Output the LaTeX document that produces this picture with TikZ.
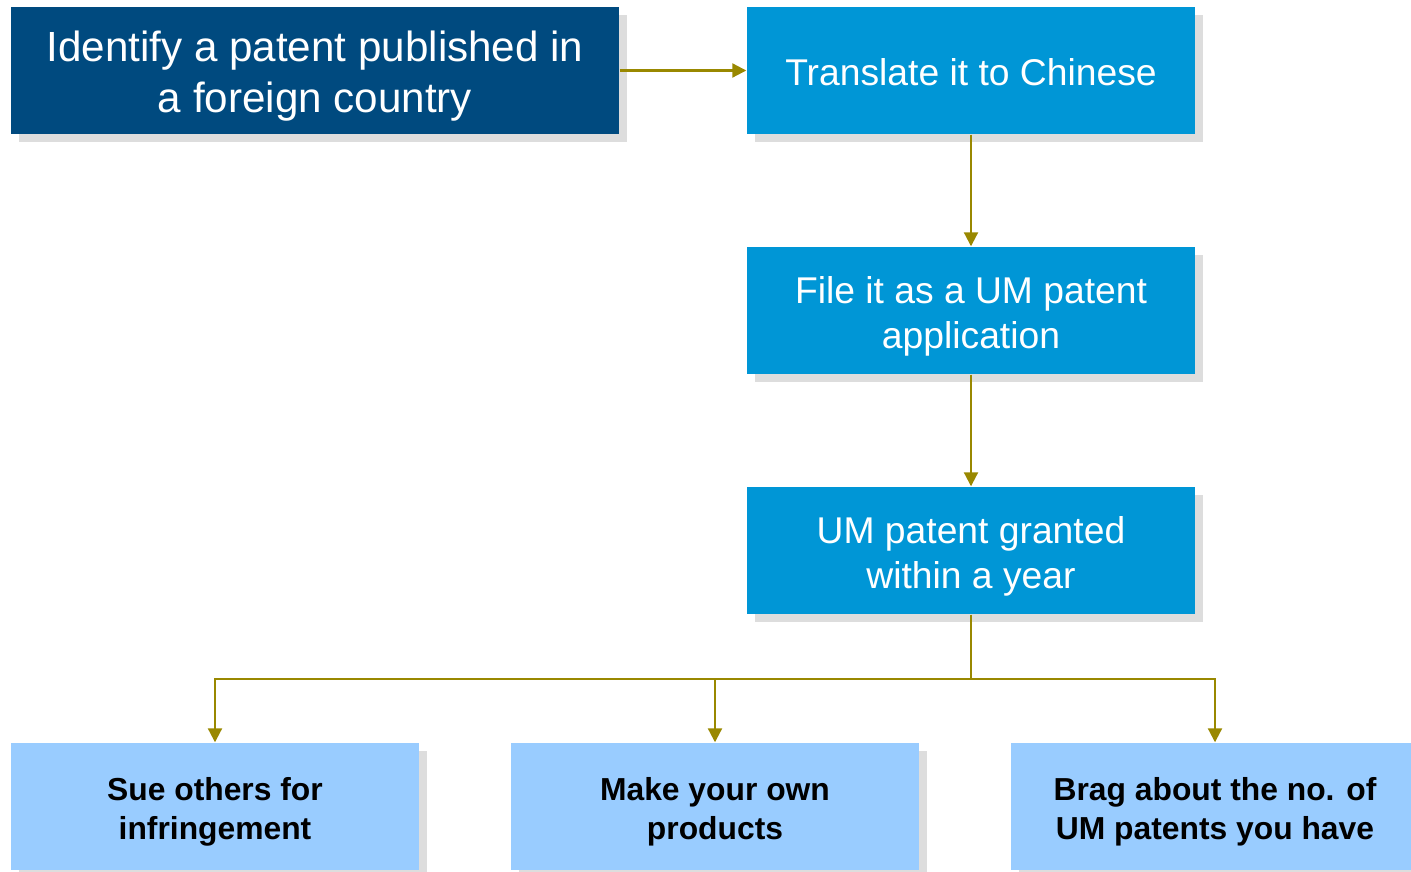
\documentclass[tikz,border=0pt]{standalone}
\usepackage{fontspec}
\setmainfont{Liberation Sans}
\usetikzlibrary{arrows.meta,shadows}

\definecolor{navy}{RGB}{0,74,127}
\definecolor{midblue}{RGB}{0,150,214}
\definecolor{paleblue}{RGB}{153,204,255}
\definecolor{olive}{RGB}{153,136,0}
\definecolor{shade}{RGB}{221,221,221}

\tikzset{
  box/.style={rectangle, inner sep=0pt, minimum height=1.27cm,
    drop shadow={shadow xshift=0.08cm, shadow yshift=-0.08cm, fill=shade, opacity=1}},
  boxtext/.style={align=center, inner sep=0pt, yshift=-0.055cm},
  navybox/.style={box, fill=navy, minimum width=6.08cm},
  navytext/.style={boxtext, text=white, font=\fontsize{12}{14.6}\selectfont},
  stepbox/.style={box, fill=midblue, minimum width=4.48cm},
  steptext/.style={boxtext, text=white, font=\fontsize{10.6}{12.8}\selectfont},
  endbox/.style={box, fill=paleblue, minimum width=4.08cm},
  endtext/.style={boxtext, text=black, font=\fontsize{9.05}{11.1}\selectfont\bfseries},
  arr/.style={draw=olive, line width=0.6pt, -{Triangle[length=0.14cm,width=0.14cm]}}
}

\begin{document}
\begin{tikzpicture}
  \clip (0,0) rectangle (14.11,-8.72);
  \def\cx{9.71}   % column of the steps
  \node[navybox, label={[navytext]center:Identify a patent published in\\a foreign country}] (find) at (3.15,-0.705) {};
  \node[stepbox, label={[steptext, yshift=0.035cm]center:Translate it to Chinese}] (translate) at (\cx,-0.705) {};
  \node[stepbox, label={[steptext]center:File it as a UM patent\\application}] (file) at (\cx,-3.105) {};
  \node[stepbox, label={[steptext]center:UM patent granted\\within a year}] (grant) at (\cx,-5.505) {};
  \coordinate (split) at (\cx,-6.79);
  \draw[arr] (find) -- (translate);
  \draw[arr] (translate) -- (file);
  \draw[arr] (file) -- (grant);
  \draw[olive, line width=0.6pt] (grant.south) -- (split);
  \foreach \n/\x/\t in {sue/2.15/{Sue others for\\infringement},
                        make/7.15/{Make your own\\products},
                        brag/12.15/{Brag about the no. of\\UM patents you have}} {
    \node[endbox, label={[endtext]center:\t}] (\n) at (\x,-8.065) {};
    \draw[arr] (split) -| (\n.north);
  }
\end{tikzpicture}
\end{document}
